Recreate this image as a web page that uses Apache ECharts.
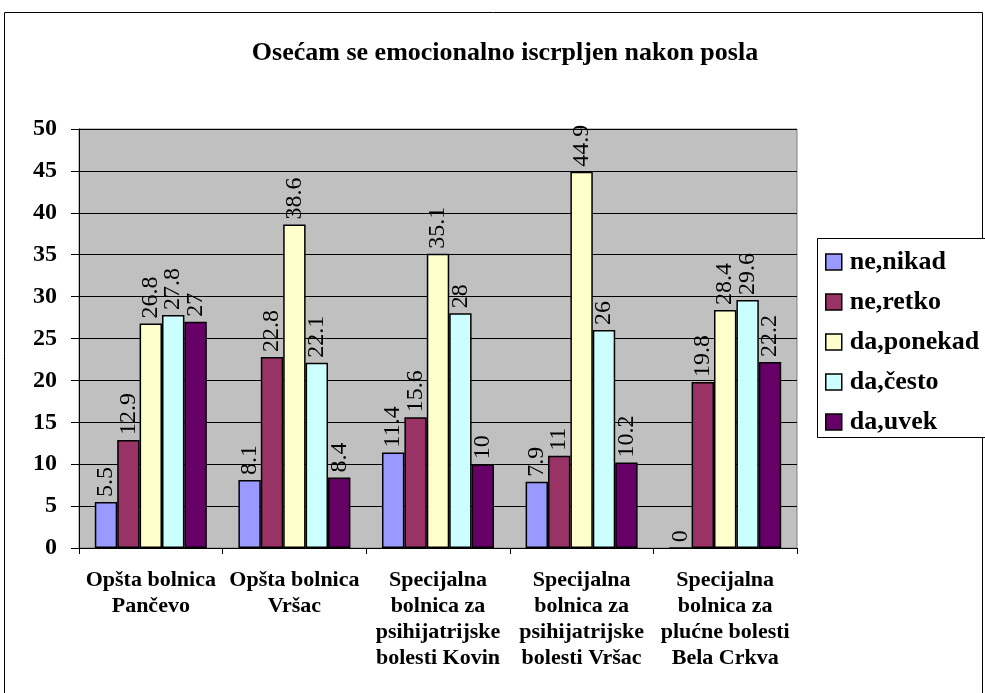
<!DOCTYPE html>
<html>
<head>
<meta charset="utf-8">
<script src="https://cdn.jsdelivr.net/npm/echarts@6/dist/echarts.min.js"></script>
<style>
  html, body { margin: 0; padding: 0; background: #fff; }
  #chart { width: 985px; height: 693px; }
</style>
</head>
<body>
<div id="chart"></div>
<script>
// Hospitals (x-axis categories)
const categories = [
  'Opšta bolnica\nPančevo',
  'Opšta bolnica\nVršac',
  'Specijalna\nbolnica za\npsihijatrijske\nbolesti Kovin',
  'Specijalna\nbolnica za\npsihijatrijske\nbolesti Vršac',
  'Specijalna\nbolnica za\nplućne bolesti\nBela Crkva'
];

// Answer shares (%) per hospital
const neNikad   = [5.5, 8.1, 11.4, 7.9, 0];
const neRetko   = [12.9, 22.8, 15.6, 11, 19.8];
const daPonekad = [26.8, 38.6, 35.1, 44.9, 28.4];
const daCesto   = [27.8, 22.1, 28, 26, 29.6];
const daUvek    = [27, 8.4, 10, 10.2, 22.2];

const seriesNames = ['ne,nikad', 'ne,retko', 'da,ponekad', 'da,često', 'da,uvek'];
const seriesData = [neNikad, neRetko, daPonekad, daCesto, daUvek];
const seriesColors = ['#9999FF', '#993366', '#FFFFCC', '#CCFFFF', '#660066'];

const yTicks = { min: 0, max: 50, interval: 5 };

const serif = '"Liberation Serif", "Times New Roman", serif';

const chart = echarts.init(document.getElementById('chart'), null, { renderer: 'canvas' });

chart.setOption({
  animation: false,
  backgroundColor: '#ffffff',
  title: {
    text: 'Osećam se emocionalno iscrpljen nakon posla',
    left: 500,
    textAlign: 'center',
    top: 35,
    textStyle: { fontFamily: serif, fontWeight: 'bold', fontSize: 26, color: '#000' }
  },
  graphic: [
    {
      type: 'rect',
      shape: { x: 4.5, y: 12.5, width: 978, height: 700 },
      style: { fill: 'none', stroke: '#000', lineWidth: 1 },
      silent: true, z: -1
    },
    {
      type: 'rect',
      shape: { x: 817.5, y: 238.5, width: 180, height: 199 },
      style: { fill: '#fff', stroke: '#000', lineWidth: 1 },
      silent: true, z: 0
    }
  ],
  legend: {
    orient: 'vertical',
    left: 825,
    top: 249,
    padding: 0,
    itemGap: 14,
    itemWidth: 16,
    itemHeight: 16,
    icon: 'rect',
    z: 5,
    textStyle: { fontFamily: serif, fontWeight: 'bold', fontSize: 26, color: '#000', padding: [0, 0, 0, 3] },
    data: seriesNames.map((n, i) => ({
      name: n,
      itemStyle: { color: seriesColors[i], borderColor: '#000', borderWidth: 1.5 }
    }))
  },
  grid: {
    left: 79, right: 188, top: 129, bottom: 145,
    show: true,
    backgroundColor: '#C0C0C0',
    borderColor: '#808080',
    borderWidth: 1,
    containLabel: false
  },
  xAxis: {
    type: 'category',
    data: categories,
    axisLine: { lineStyle: { color: '#000', width: 1 } },
    axisTick: { show: true, length: 6, lineStyle: { color: '#000' } },
    axisLabel: {
      interval: 0,
      margin: 19,
      fontFamily: serif, fontWeight: 'bold', fontSize: 22, lineHeight: 26, color: '#000'
    }
  },
  yAxis: {
    type: 'value',
    min: yTicks.min, max: yTicks.max, interval: yTicks.interval,
    axisLine: { show: true, lineStyle: { color: '#000', width: 1 } },
    axisTick: { show: true, length: 8, lineStyle: { color: '#000' } },
    axisLabel: { margin: 22, fontFamily: serif, fontWeight: 'bold', fontSize: 24, color: '#000' },
    splitLine: { show: true, lineStyle: { color: '#000', width: 1 } }
  },
  series: seriesNames.map((n, i) => ({
    name: n,
    type: 'bar',
    data: seriesData[i],
    barGap: '0%',
    barCategoryGap: '22%',
    itemStyle: { color: seriesColors[i], borderColor: '#000', borderWidth: 1.5 },
    label: {
      show: true,
      position: 'top',
      rotate: 90,
      align: 'left',
      verticalAlign: 'middle',
      distance: 5,
      fontFamily: serif,
      fontSize: 24,
      color: '#000'
    }
  }))
});
</script>
</body>
</html>
